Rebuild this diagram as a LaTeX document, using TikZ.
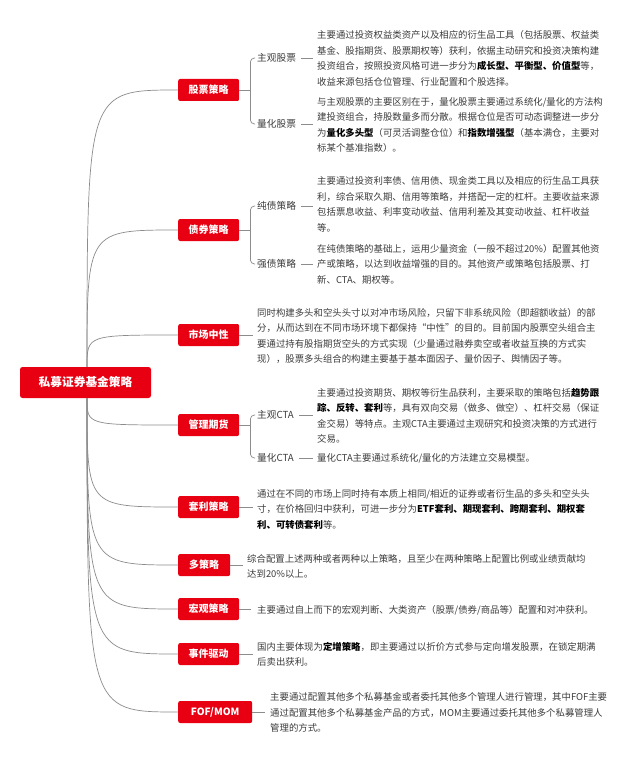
\documentclass[tikz,border=0pt]{standalone}
\usepackage{fontspec}
\setmainfont{Noto Sans CJK SC}
\usetikzlibrary{calc}
\definecolor{mred}{RGB}{232,0,18}
\definecolor{ln}{RGB}{140,140,140}
\definecolor{tx}{RGB}{60,60,60}
\newcommand\kw[1]{\textcolor{black}{\bfseries #1}}
\tikzset{
  conn/.style={draw=ln, line width=0.7pt},
  catbox/.style={fill=mred, rounded corners=2pt, text=white, font=\fontsize{10}{12}\selectfont\bfseries, minimum height=22pt, inner sep=0pt, anchor=west},
  rootbox/.style={fill=mred, rounded corners=2.5pt, text=white, font=\fontsize{11.7}{14}\selectfont\bfseries, minimum height=31pt, minimum width=131pt, inner sep=0pt},
  sublabel/.style={text=tx, font=\fontsize{9.7}{12}\selectfont, inner sep=2pt, anchor=west},
  desc/.style={text=tx, font=\fontsize{9.4}{15.5}\selectfont, align=left, inner sep=0pt, anchor=west},
}
\begin{document}
\begin{tikzpicture}[x=1pt,y=-1pt]
\fill[white] (0,0) rectangle (640,765);
\useasboundingbox (0,0) rectangle (640,765);

% root
\node[rootbox] (root) at (85.5,382.5) {私募证券基金策略};
\coordinate (rt) at ([xshift=1.5pt]root.north);
\coordinate (rb) at ([xshift=1.5pt]root.south);

% categories
\node[catbox, minimum width=61pt] (b1) at (178,90) {股票策略};
\node[catbox, minimum width=61pt] (b2) at (178,230) {债券策略};
\node[catbox, minimum width=61pt] (b3) at (178,335) {市场中性};
\node[catbox, minimum width=61pt] (b4) at (178,425) {管理期货};
\node[catbox, minimum width=61pt] (b5) at (178,507) {套利策略};
\node[catbox, minimum width=52pt] (b6) at (178,565) {多策略};
\node[catbox, minimum width=61pt] (b7) at (178,609) {宏观策略};
\node[catbox, minimum width=61pt] (b8) at (178,654) {事件驱动};
\node[catbox, minimum width=74pt] (b9) at (178,712) {FOF/MOM};

% root connectors
\foreach \b in {b1,b2,b3}{
  \draw[conn] (rt) .. controls (rt |- \b.west) .. (\b.west);
}
\foreach \b in {b4,b5,b6,b7,b8,b9}{
  \draw[conn] (rb) .. controls (rb |- \b.west) .. (\b.west);
}

% 股票策略
\node[sublabel] (s11) at (255,58) {主观股票};
\node[sublabel] (s12) at (255,124) {量化股票};
\node[desc] (t11) at (317,58.5) {主要通过投资权益类资产以及相应的衍生品工具（包括股票、权益类\\基金、股指期货、股票期权等）获利，依据主动研究和投资决策构建\\投资组合，按照投资风格可进一步分为\kw{成长型、平衡型、价值型}等，\\收益来源包括仓位管理、行业配置和个股选择。};
\node[desc] (t12) at (317,125) {与主观股票的主要区别在于，量化股票主要通过系统化/量化的方法构\\建投资组合，持股数量多而分散。根据仓位是否可动态调整进一步分\\为\kw{量化多头型}（可灵活调整仓位）和\kw{指数增强型}（基本满仓，主要对\\标某个基准指数）。};
\draw[conn] (b1.east) -- ([xshift=11pt]b1.east);
\draw[conn, rounded corners=4pt] (s11.west) -| ([xshift=11pt]b1.east) |- (s12.west);
\draw[conn] ([xshift=3pt]s11.east) -- ([xshift=-4pt]t11.west |- s11.east);
\draw[conn] ([xshift=3pt]s12.east) -- ([xshift=-4pt]t12.west |- s12.east);

% 债券策略
\node[sublabel] (s21) at (255,206) {纯债策略};
\node[sublabel] (s22) at (255,264) {强债策略};
\node[desc] (t21) at (317,204.5) {主要通过投资利率债、信用债、现金类工具以及相应的衍生品工具获\\利，综合采取久期、信用等策略，并搭配一定的杠杆。主要收益来源\\包括票息收益、利率变动收益、信用利差及其变动收益、杠杆收益\\等。};
\node[desc] (t22) at (317,264) {在纯债策略的基础上，运用少量资金（一般不超过20\%）配置其他资\\产或策略，以达到收益增强的目的。其他资产或策略包括股票、打\\新、CTA、期权等。};
\draw[conn] (b2.east) -- ([xshift=11pt]b2.east);
\draw[conn, rounded corners=4pt] (s21.west) -| ([xshift=11pt]b2.east) |- (s22.west);
\draw[conn] ([xshift=3pt]s21.east) -- ([xshift=-4pt]t21.west |- s21.east);
\draw[conn] ([xshift=3pt]s22.east) -- ([xshift=-4pt]t22.west |- s22.east);

% 市场中性
\node[desc] (t3) at (257,336) {同时构建多头和空头头寸以对冲市场风险，只留下非系统风险（即超额收益）的部\\分，从而达到在不同市场环境下都保持“中性”的目的。目前国内股票空头组合主\\要通过持有股指期货空头的方式实现（少量通过融券卖空或者收益互换的方式实\\现），股票多头组合的构建主要基于基本面因子、量价因子、舆情因子等。};
\draw[conn] (b3.east) -- ([xshift=-4pt]t3.west |- b3.east);

% 管理期货
\node[sublabel] (s41) at (255,415) {主观CTA};
\node[sublabel] (s42) at (255,458) {量化CTA};
\node[desc] (t41) at (317,416) {主要通过投资期货、期权等衍生品获利，主要采取的策略包括\kw{趋势跟}\\\kw{踪、反转、套利}等，具有双向交易（做多、做空）、杠杆交易（保证\\金交易）等特点。主观CTA主要通过主观研究和投资决策的方式进行\\交易。};
\node[desc] (t42) at (317,458) {量化CTA主要通过系统化/量化的方法建立交易模型。};
\draw[conn] (b4.east) -- ([xshift=11pt]b4.east);
\draw[conn, rounded corners=4pt] (s41.west) -| ([xshift=11pt]b4.east) |- (s42.west);
\draw[conn] ([xshift=3pt]s41.east) -- ([xshift=-4pt]t41.west |- s41.east);
\draw[conn] ([xshift=3pt]s42.east) -- ([xshift=-4pt]t42.west |- s42.east);

% 套利策略
\node[desc] (t5) at (257,509) {通过在不同的市场上同时持有本质上相同/相近的证券或者衍生品的多头和空头头\\寸，在价格回归中获利，可进一步分为\kw{ETF套利、期现套利、跨期套利、期权套}\\\kw{利、可转债套利}等。};
\draw[conn] (b5.east) -- ([xshift=-4pt]t5.west |- b5.east);

% 多策略
\node[desc] (t6) at (247,566.5) {综合配置上述两种或者两种以上策略，且至少在两种策略上配置比例或业绩贡献均\\达到20\%以上。};
\draw[conn] (b6.east) -- ([xshift=-4pt]t6.west |- b6.east);

% 宏观策略
\node[desc] (t7) at (257,610) {主要通过自上而下的宏观判断、大类资产（股票/债券/商品等）配置和对冲获利。};
\draw[conn] (b7.east) -- ([xshift=-6pt]t7.west |- b7.east);

% 事件驱动
\node[desc] (t8) at (257,654.5) {国内主要体现为\kw{定增策略}，即主要通过以折价方式参与定向增发股票，在锁定期满\\后卖出获利。};
\draw[conn] (b8.east) -- ([xshift=-4pt]t8.west |- b8.east);

% FOF/MOM
\node[desc] (t9) at (270,712.5) {主要通过配置其他多个私募基金或者委托其他多个管理人进行管理，其中FOF主要\\通过配置其他多个私募基金产品的方式，MOM主要通过委托其他多个私募管理人\\管理的方式。};
\draw[conn] (b9.east) -- ([xshift=-5pt]t9.west |- b9.east);
\end{tikzpicture}
\end{document}
